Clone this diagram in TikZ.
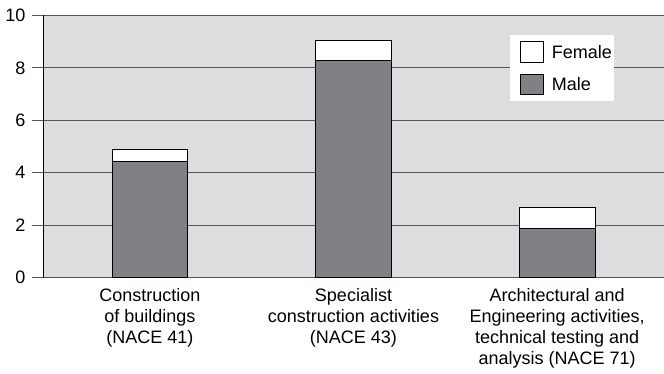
\documentclass[tikz,border=0pt]{standalone}
\usepackage{fontspec}
\setmainfont{Liberation Sans}
\definecolor{plotbg}{RGB}{220,221,223}
\definecolor{malegray}{RGB}{128,129,133}
\definecolor{gridgray}{RGB}{85,85,85}
\begin{document}
\begin{tikzpicture}[x=1pt,y=1pt,
  lbl/.style={font=\fontsize{18}{21}\selectfont,inner sep=0pt},
  ticklbl/.style={lbl,anchor=east},
  catlbl/.style={lbl,anchor=north,align=center},
  gridline/.style={draw=gridgray,line width=1.2pt},
  malebar/.style={fill=malegray,draw=black,line width=0.9pt},
  femalebar/.style={fill=white,draw=black,line width=0.9pt}]
\useasboundingbox (0,0) rectangle (664,373);
\begin{scope}[shift={(0,95.3)},y=26.23pt]
  % background
  \fill[plotbg] (43.3,0) rectangle (664,10);
  % gridlines and ticks
  \foreach \v in {0,2,...,10} {
    \draw[gridline] (31.7,\v) -- (664,\v);
    \node[ticklbl] (t\v) at (25.5,\v) {\v};
  }
  % axis
  \draw[black,line width=1pt] (43.3,0) -- (43.3,10);
  % bars
  \draw[malebar] (112,0) rectangle (187.7,4.44);
  \draw[femalebar] (112,4.44) rectangle (187.7,4.89);
  \draw[malebar] (315.7,0) rectangle (391.3,8.30);
  \draw[femalebar] (315.7,8.30) rectangle (391.3,9.06);
  \draw[malebar] (519.3,0) rectangle (595,1.88);
  \draw[femalebar] (519.3,1.88) rectangle (595,2.68);
\end{scope}
% legend
\fill[white] (510,272.3) rectangle (613.7,338);
\draw[femalebar] (520,310.7) rectangle (543.3,331.3);
\draw[malebar] (520,279) rectangle (543.3,299);
\node[lbl,anchor=west] (lf) at (551.7,321) {Female};
\node[lbl,anchor=west] (lm) at (551.7,289) {Male};
% category labels
\node[catlbl] (c1) at (149.8,84.5) {Construction\\of buildings\\(NACE 41)};
\node[catlbl] (c2) at (353.5,84.5) {Specialist\\construction activities\\(NACE 43)};
\node[catlbl] (c3) at (557.2,84.5) {Architectural and\\Engineering activities,\\technical testing and\\analysis (NACE 71)};
\end{tikzpicture}
\end{document}
